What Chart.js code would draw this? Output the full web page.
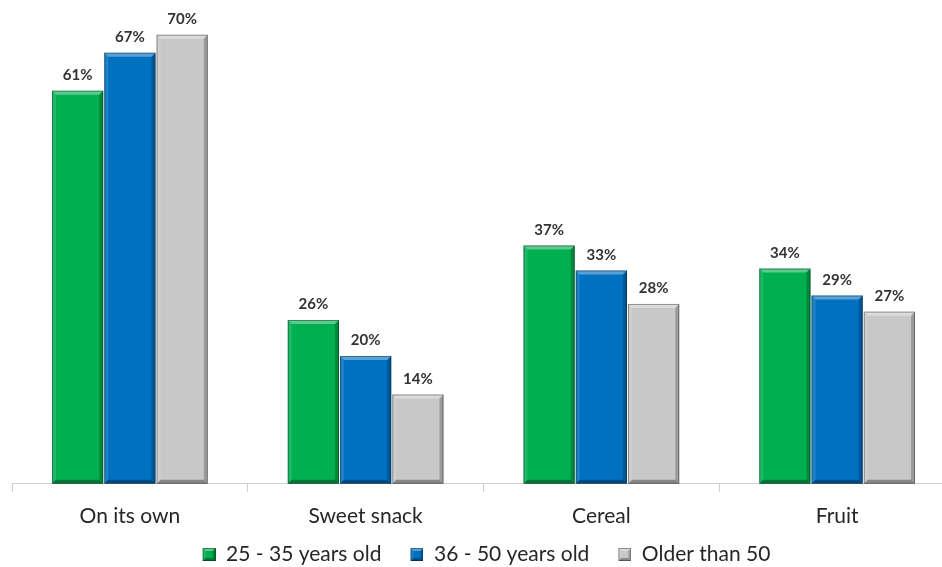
<!DOCTYPE html>
<html>
<head>
<meta charset="utf-8">
<script src="https://cdn.jsdelivr.net/npm/chart.js@4"></script>
<style>
  html, body { margin: 0; padding: 0; background: #ffffff; overflow: hidden; }
  #wrap { position: absolute; left: 0; top: 0; width: 960px; height: 567px; }
</style>
</head>
<body>
<div id="wrap"><canvas id="chart"></canvas></div>
<script>
// === DATOS ===
const categories = ["On its own", "Sweet snack", "Cereal", "Fruit"];
const seriesNames = ["25 - 35 years old", "36 - 50 years old", "Older than 50"];
const young = [61.2, 25.5, 37.1, 33.5];
const middle = [67.1, 19.9, 33.2, 29.3];
const older = [69.9, 13.9, 28.0, 26.8];
const seriesColors = ["#00b050", "#0070c0", "#c8c8c8"];

const FONT = "Lato, 'Open Sans', sans-serif";
const SW_PAD = 26;      // espacio transparente a la izquierda del cuadrito de leyenda
const LEGEND_SHIFT = -10; // corrimiento horizontal de la leyenda

// bisel estilo Excel sobre un rectangulo
function drawBevel(ctx, x0, y0, x1, y1, b) {
    ctx.save();
    const poly = (pts, fill) => {
        ctx.beginPath();
        ctx.moveTo(pts[0][0], pts[0][1]);
        for (let i = 1; i < pts.length; i++) ctx.lineTo(pts[i][0], pts[i][1]);
        ctx.closePath();
        ctx.fillStyle = fill;
        ctx.fill();
    };
    poly([[x0, y0], [x1, y0], [x1 - b, y0 + b], [x0 + b, y0 + b]], "rgba(255,255,255,0.35)");
    poly([[x0, y0], [x0 + b, y0 + b], [x0 + b, y1 - b], [x0, y1]], "rgba(255,255,255,0.12)");
    poly([[x1, y0], [x1, y1], [x1 - b, y1 - b], [x1 - b, y0 + b]], "rgba(0,0,0,0.22)");
    poly([[x0, y1], [x0 + b, y1 - b], [x1 - b, y1 - b], [x1, y1]], "rgba(0,0,0,0.32)");
    ctx.strokeStyle = "rgba(0,0,0,0.35)";
    ctx.lineWidth = 1;
    ctx.strokeRect(x0 + 0.5, y0 + 0.5, x1 - x0 - 1, y1 - y0 - 1);
    ctx.restore();
}

function makeSwatch(color) {
    const c = document.createElement("canvas");
    c.width = 13 + SW_PAD; c.height = 13;
    const g = c.getContext("2d");
    g.fillStyle = color;
    g.fillRect(SW_PAD, 0, 13, 13);
    drawBevel(g, SW_PAD, 0, SW_PAD + 13, 13, 3);
    return c;
}
const swatches = seriesColors.map(makeSwatch);

const bevelPlugin = {
    id: "bevel",
    afterLayout(chart) {
        if (chart.legend) {
            chart.legend.left += LEGEND_SHIFT;
            chart.legend.right += LEGEND_SHIFT;
        }
    },
    afterDatasetsDraw(chart) {
        const ctx = chart.ctx;
        chart.data.datasets.forEach((ds, i) => {
            const meta = chart.getDatasetMeta(i);
            meta.data.forEach((bar, j) => {
                const x0 = bar.x - bar.width / 2, x1 = bar.x + bar.width / 2;
                drawBevel(ctx, x0, bar.y, x1, bar.base, 4);
                // etiqueta de valor
                ctx.save();
                ctx.font = "bold 15px " + FONT;
                ctx.fillStyle = "#333333";
                ctx.textAlign = "center";
                ctx.textBaseline = "bottom";
                ctx.fillText(Math.round(ds.data[j]) + "%", bar.x, bar.y - 8);
                ctx.restore();
            });
        });
    }
};

const ds = [young, middle, older].map((vals, i) => ({
    label: seriesNames[i],
    data: vals,
    backgroundColor: seriesColors[i],
    borderWidth: 0,
    categoryPercentage: 0.665,
    barPercentage: 0.98
}));

new Chart(document.getElementById("chart"), {
    type: "bar",
    data: { labels: categories, datasets: ds },
    options: {
        responsive: true,
        maintainAspectRatio: false,
        animation: false,
        layout: { padding: { top: 2, left: 12, right: 5, bottom: -8 } },
        plugins: {
            tooltip: { enabled: false },
            legend: {
                position: "bottom",
                labels: {
                    usePointStyle: true,
                    pointStyleWidth: 13 + SW_PAD,
                    padding: 3,
                    color: "#262626",
                    font: { size: 21, family: FONT },
                    generateLabels(chart) {
                        const items = Chart.defaults.plugins.legend.labels.generateLabels(chart);
                        items.forEach((it, k) => { it.pointStyle = swatches[k]; });
                        return items;
                    }
                }
            }
        },
        scales: {
            y: { display: false, min: 0, max: 75 },
            x: {
                grid: { offset: true, drawOnChartArea: false, drawTicks: true, tickLength: 8, color: "#d0d0d0" },
                border: { color: "#d0d0d0" },
                ticks: { color: "#262626", padding: 12, font: { size: 21, family: FONT } }
            }
        }
    },
    plugins: [bevelPlugin]
});
</script>
</body>
</html>
